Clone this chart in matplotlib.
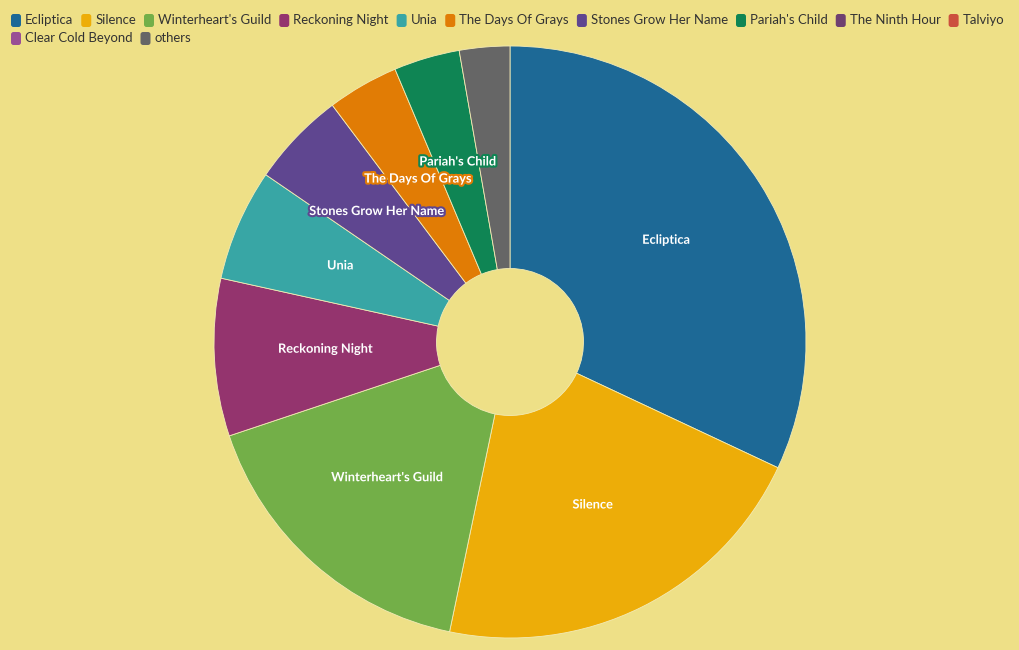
import numpy as np
import matplotlib.pyplot as plt
import matplotlib.patheffects as pe
from matplotlib.patches import FancyBboxPatch

# Datos de la gráfica (porcentaje de cada álbum)
slice_names = ['Ecliptica', 'Silence', "Winterheart's Guild", 'Reckoning Night', 'Unia',
               'Stones Grow Her Name', 'The Days Of Grays', "Pariah's Child", 'others']
slice_shares = [32.0, 21.3, 16.6, 8.6, 6.1, 5.2, 3.9, 3.6, 2.75]
show_label = [True, True, True, True, True, True, True, True, False]

legend_names = ['Ecliptica', 'Silence', "Winterheart's Guild", 'Reckoning Night', 'Unia',
                'The Days Of Grays', 'Stones Grow Her Name', "Pariah's Child", 'The Ninth Hour',
                'Talviyo', 'Clear Cold Beyond', 'others']

colors = {
    'Ecliptica': '#1D6996', 'Silence': '#EDAD08', "Winterheart's Guild": '#73AF48',
    'Reckoning Night': '#94346E', 'Unia': '#38A6A5', 'The Days Of Grays': '#E17C05',
    'Stones Grow Her Name': '#5F4690', "Pariah's Child": '#0F8554',
    'The Ninth Hour': '#6F4070', 'Talviyo': '#CC503E', 'Clear Cold Beyond': '#994E95',
    'others': '#666666',
}

bg = '#EEE087'
W, H = 1020, 650
plt.rcParams['font.family'] = ['Lato', 'DejaVu Sans']

fig = plt.figure(figsize=(W / 100, H / 100), dpi=100, facecolor=bg)

# Área del donut
cx, cy, R = 510, 342, 296
ax = fig.add_axes([(cx - R) / W, (H - cy - R) / H, 2 * R / W, 2 * R / H])
ax.set_facecolor(bg)
ax.axis('off')

wedges, _ = ax.pie(slice_shares, colors=[colors[n] for n in slice_names], startangle=90,
                   counterclock=False, radius=1.0,
                   wedgeprops=dict(width=1 - 73.5 / R, edgecolor='#F3EBB5', linewidth=0.6))
ax.set_xlim(-1, 1)
ax.set_ylim(-1, 1)
ax.set_aspect('equal')

# Etiquetas dentro de cada porción
for w, name, show in zip(wedges, slice_names, show_label):
    if not show:
        continue
    ang = np.deg2rad((w.theta1 + w.theta2) / 2)
    r = 0.625
    ax.text(r * np.cos(ang), r * np.sin(ang) + 3 / R, name, ha='center', va='center',
            fontsize=9.2, fontweight='bold', color='white',
            path_effects=[pe.withStroke(linewidth=3, foreground=colors[name])])

# Leyenda manual (fluye en dos filas)
renderer = fig.canvas.get_renderer()
x, row_y = 11, 20.5
for name in legend_names:
    t = fig.text(0, 0, name, fontsize=9.45, color='#333333', va='center', ha='left')
    tw = t.get_window_extent(renderer=renderer).width
    if x + 14 + tw > W - 10:
        x = 11
        row_y += 18
    t.set_position(((x + 14) / W, (H - row_y) / H))
    box = FancyBboxPatch((x, H - row_y - 6.5), 10, 13, boxstyle='round,pad=0,rounding_size=2.5',
                         facecolor=colors[name], edgecolor='none', transform=None)
    fig.add_artist(box)
    x += 14 + tw + 8

fig.savefig('out.png', dpi=100, facecolor=bg)
